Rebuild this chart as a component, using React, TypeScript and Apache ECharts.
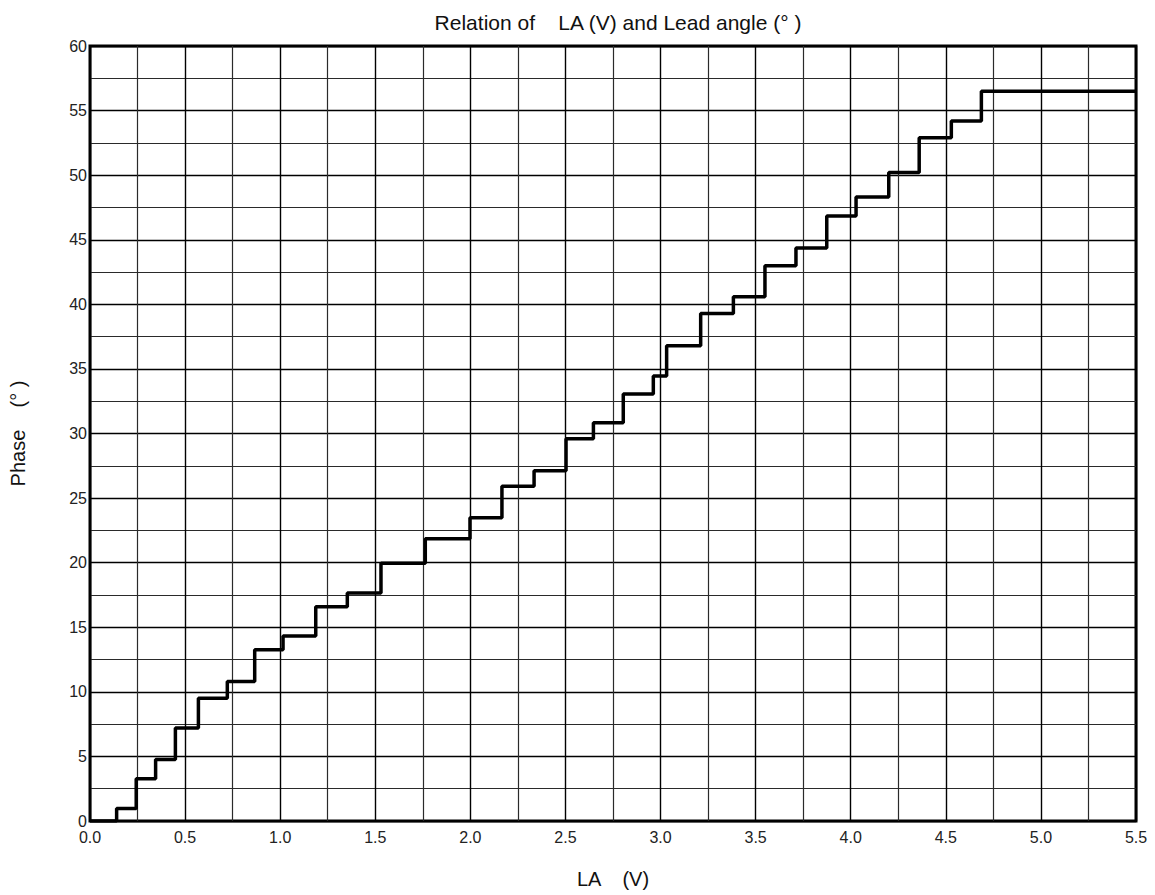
import React, { useEffect, useRef } from "react";
import * as echarts from "echarts";

// x (LA, V) at which each step level begins
const stepStartX = [
  0, 0.14, 0.243, 0.345, 0.449, 0.57, 0.722, 0.866, 1.015, 1.187, 1.353, 1.53,
  1.763, 1.998, 2.166, 2.335, 2.503, 2.647, 2.804, 2.962, 3.032, 3.211, 3.383,
  3.549, 3.712, 3.874, 4.028, 4.2, 4.36, 4.529, 4.687,
];
// phase level (°) of each step
const stepLevel = [
  0, 0.96, 3.28, 4.76, 7.2, 9.5, 10.8, 13.26, 14.33, 16.59, 17.65, 19.95,
  21.86, 23.48, 25.92, 27.12, 29.59, 30.83, 33.05, 34.45, 36.79, 39.29, 40.58,
  42.98, 44.36, 46.83, 48.31, 50.2, 52.9, 54.2, 56.5,
];
const xEnd = 5.5;

const titleText = "Relation of    LA (V) and Lead angle (° )";
const xName = "LA    (V)";
const yName = "Phase    (° )";

const FONT = "'Liberation Sans', Arial, sans-serif";

export default function App() {
  const ref = useRef<HTMLDivElement>(null);
  useEffect(() => {
    if (!ref.current) return;
    const chart = echarts.init(ref.current, null, { renderer: "svg" });
    const data: [number, number][] = stepStartX.map((x, i) => [x, stepLevel[i]]);
    data.push([xEnd, stepLevel[stepLevel.length - 1]]);
    chart.setOption({
      animation: false,
      backgroundColor: "#fff",
      textStyle: { fontFamily: FONT },
      title: {
        text: titleText,
        left: 613,
        top: 7,
        textAlign: "center",
        textStyle: { fontFamily: FONT, fontSize: 21, fontWeight: "normal", color: "#111" },
      },
      grid: {
        left: 90,
        right: 19,
        top: 46,
        bottom: 74,
        show: true,
        borderColor: "#000",
        borderWidth: 3,
        backgroundColor: "transparent",
      },
      xAxis: {
        type: "value",
        min: 0,
        max: 5.5,
        interval: 0.5,
        name: xName,
        nameLocation: "middle",
        nameGap: 48,
        nameTextStyle: { fontFamily: FONT, fontSize: 20, color: "#111" },
        axisLine: { show: false },
        axisTick: { show: false },
        axisLabel: {
          margin: 8,
          fontFamily: FONT,
          fontSize: 16,
          color: "#222",
          formatter: (v: number) => v.toFixed(1),
        },
        splitLine: { show: true, lineStyle: { color: "#000", width: 1.4 } },
        minorTick: { show: false, splitNumber: 2 },
        minorSplitLine: { show: true, lineStyle: { color: "#2a2a2a", width: 1.2 } },
      },
      yAxis: {
        type: "value",
        min: 0,
        max: 60,
        interval: 5,
        name: yName,
        nameLocation: "middle",
        nameGap: 62,
        nameRotate: 90,
        nameTextStyle: { fontFamily: FONT, fontSize: 20, color: "#111" },
        axisLine: { show: false },
        axisTick: { show: false },
        axisLabel: { margin: 3, fontFamily: FONT, fontSize: 16, color: "#222" },
        splitLine: { show: true, lineStyle: { color: "#000", width: 1.4 } },
        minorTick: { show: false, splitNumber: 2 },
        minorSplitLine: { show: true, lineStyle: { color: "#2a2a2a", width: 1.2 } },
      },
      series: [
        {
          type: "line",
          step: "end",
          data,
          symbol: "none",
          lineStyle: { color: "#000", width: 3.5 },
          z: 5,
        },
      ],
    });
    return () => chart.dispose();
  }, []);
  return (
    <div
      ref={ref}
      style={{ position: "absolute", left: 0, top: 0, width: 1155, height: 895 }}
    />
  );
}
